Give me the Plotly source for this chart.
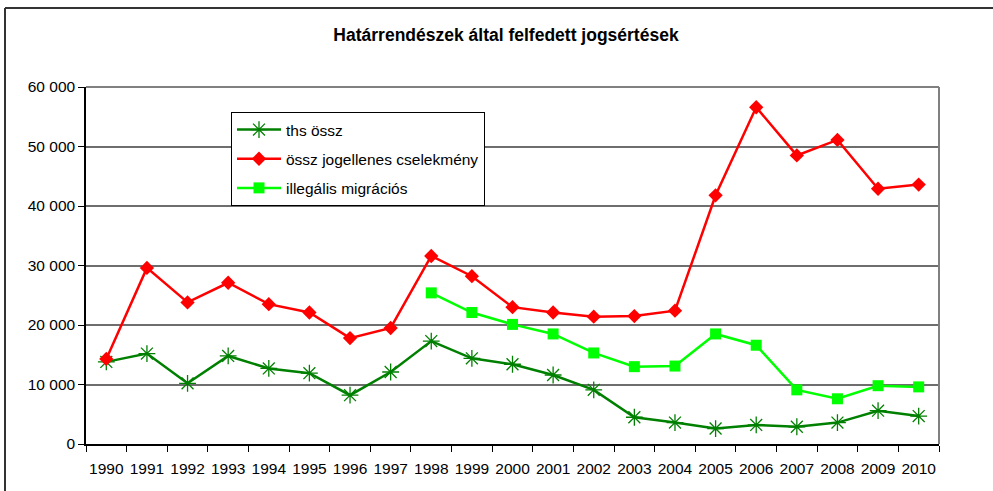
import plotly.graph_objects as go

years = [str(y) for y in range(1990, 2011)]
ths_ossz = [13800, 15200, 10200, 14800, 12700, 11900, 8200, 12100, 17300, 14400,
            13400, 11600, 9100, 4500, 3600, 2600, 3200, 2900, 3600, 5600, 4700]
ossz_jogellenes = [14300, 29600, 23800, 27100, 23500, 22100, 17800, 19500, 31600, 28200,
                   23000, 22100, 21400, 21500, 22400, 41800, 56600, 48500, 51100, 42900, 43600]
illegalis_migracios = [None] * 8 + [25400, 22100, 20100, 18500, 15300, 13000, 13100,
                                    18500, 16600, 9100, 7600, 9800, 9600]
y_ticks = [0, 10000, 20000, 30000, 40000, 50000, 60000]

W, H = 993, 491
L, R, T, B = 86, 939, 87, 444

fig = go.Figure()
fig.add_trace(go.Scatter(x=years, y=ths_ossz, name="ths össz", mode="lines+markers",
                         line=dict(color="#008000", width=2.5),
                         marker=dict(symbol="asterisk-open", size=14, color="#008000",
                                     line=dict(color="#008000", width=1.3)),
                         legendgroup="a"))
fig.add_trace(go.Scatter(x=years, y=ossz_jogellenes, name="össz jogellenes cselekmény",
                         mode="lines+markers", line=dict(color="#FF0000", width=2.5),
                         marker=dict(symbol="diamond", size=11, color="#FF0000"),
                         legendgroup="b"))
fig.add_trace(go.Scatter(x=years, y=illegalis_migracios, name="illegális migrációs",
                         mode="lines+markers", line=dict(color="#00FF00", width=2.5),
                         marker=dict(symbol="square", size=11, color="#00FF00"),
                         legendgroup="c", connectgaps=False))

pw, ph = R - L, B - T
def px(x): return (x - L) / pw
def py(y): return (B - y) / ph

shapes = [
    dict(type="line", xref="paper", yref="paper", x0=0, x1=1, y0=1, y1=1,
         line=dict(color="#808080", width=2)),
    dict(type="line", xref="paper", yref="paper", x0=1, x1=1, y0=0, y1=1,
         line=dict(color="#808080", width=2)),
    dict(type="line", xref="paper", yref="paper", x0=px(5), x1=px(W + 5), y0=py(8), y1=py(8),
         line=dict(color="#333333", width=2)),
    dict(type="line", xref="paper", yref="paper", x0=px(5), x1=px(5), y0=py(8), y1=py(H + 5),
         line=dict(color="#333333", width=2)),
]

FONT = "Liberation Sans, Arial, sans-serif"
fig.update_layout(
    width=W, height=H,
    margin=dict(l=L, r=W - R, t=T, b=H - B),
    paper_bgcolor="white", plot_bgcolor="white",
    font=dict(family=FONT, size=15.5, color="#000000"),
    separators=". ",
    title=dict(text="<b>Határrendészek által felfedett jogsértések</b>",
               x=506 / W, xanchor="center", y=1 - 35 / H, yanchor="middle",
               xref="container", yref="container",
               font=dict(size=17.5, family=FONT)),
    showlegend=True,
    legend=dict(x=px(231), y=py(112), xanchor="left", yanchor="top",
                bordercolor="#000000", borderwidth=1, bgcolor="white",
                font=dict(size=15.5), traceorder="grouped", tracegroupgap=6,
                itemwidth=44),
    xaxis=dict(type="category", tickson="boundaries", ticks="outside", ticklen=6,
               tickcolor="#000000", showline=True, linecolor="#000000", linewidth=1.5,
               showgrid=False, range=[-0.5, 20.5], tickfont=dict(size=15.5),
               tickangle=0, automargin=False, ticklabelstandoff=10),
    yaxis=dict(range=[0, 60000], tickvals=y_ticks, tickformat=",d", ticks="outside",
               ticklen=6, tickcolor="#000000", showline=True, linecolor="#000000",
               linewidth=1.5, showgrid=True, gridcolor="#6e6e6e", gridwidth=1.5,
               zeroline=False, tickfont=dict(size=15.5), automargin=False),
    shapes=shapes,
)

fig.write_html("out.html", config={"displayModeBar": False},
               post_script="document.body.style.margin='0';document.body.style.overflow='hidden';")
